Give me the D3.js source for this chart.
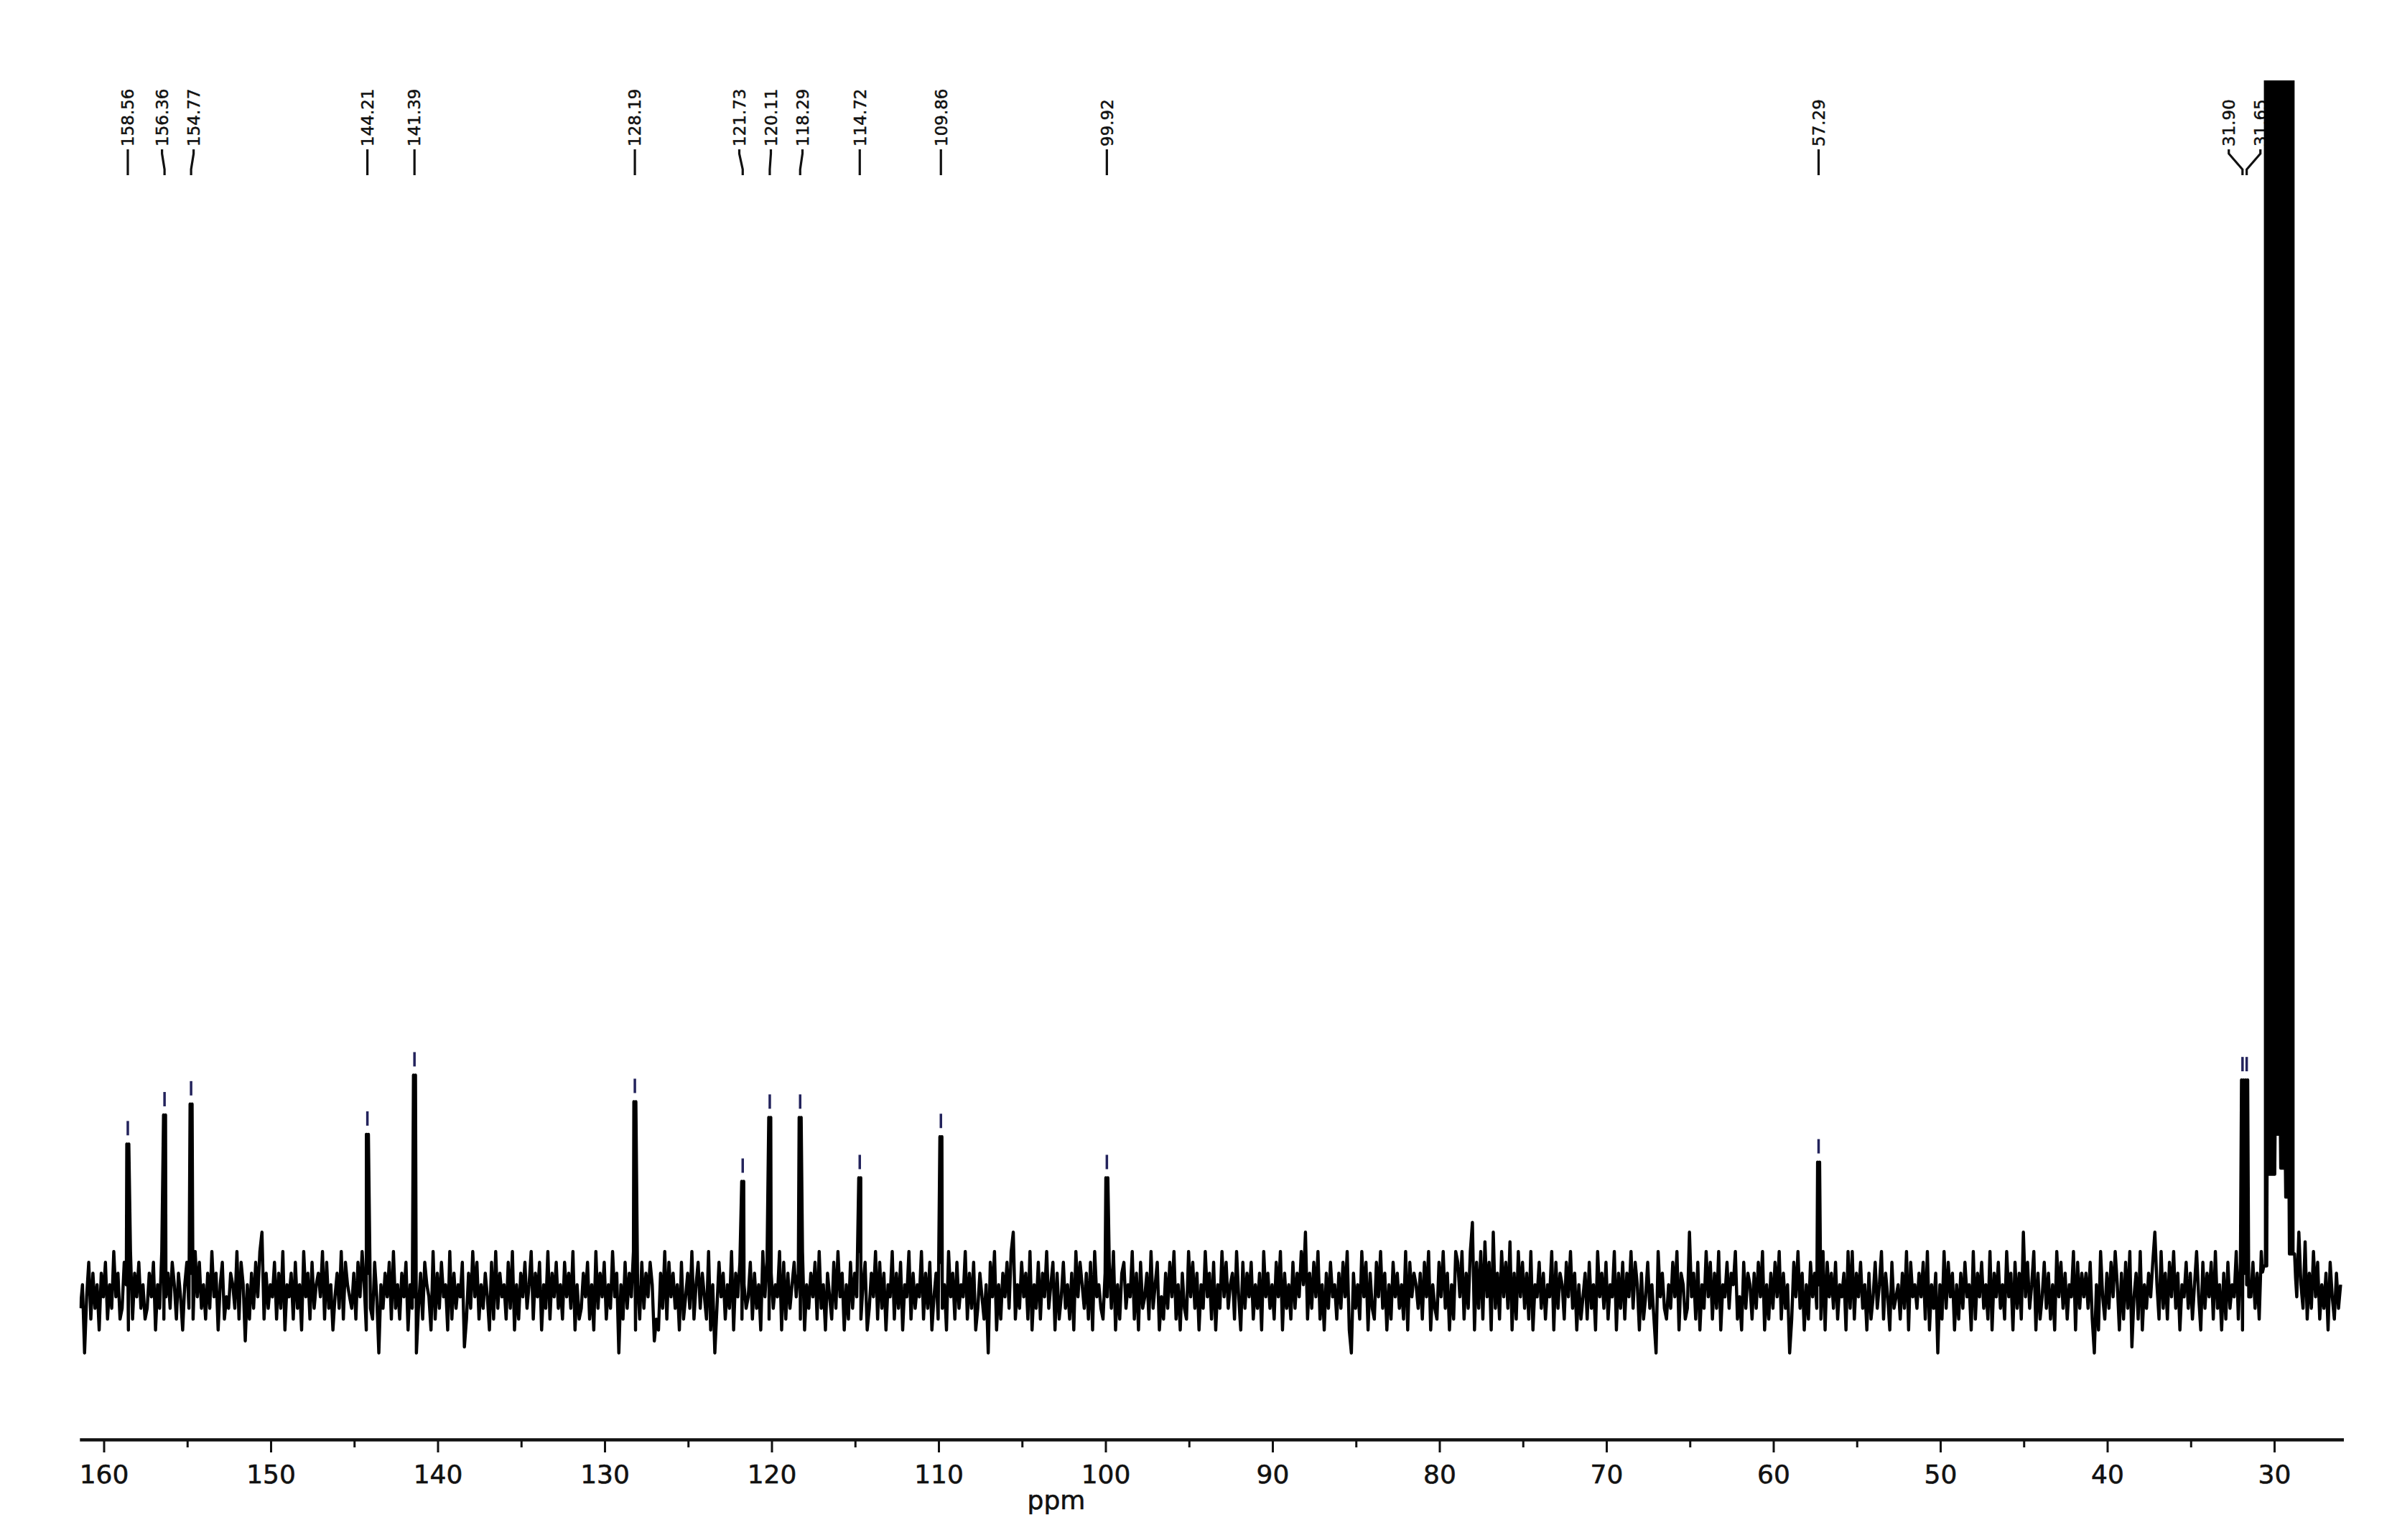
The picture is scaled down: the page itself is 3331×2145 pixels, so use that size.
<!DOCTYPE html>
<html><head><meta charset="utf-8">
<script src="https://cdn.jsdelivr.net/npm/d3@7"></script>
<style>html,body{margin:0;padding:0;background:#fff;} svg{display:block;}</style>
</head><body>
<script>
// ---------------- data ----------------
const peakPpm    = [158.56, 156.36, 154.77, 144.21, 141.39, 128.19, 121.73, 120.11, 118.29, 114.72, 109.86, 99.92, 57.29, 31.90, 31.65];
const peakHeight = [12.1, 14.5, 15.4, 12.9, 17.8, 15.6, 9.0, 14.3, 14.3, 9.3, 12.7, 9.3, 10.6, 17.4, 17.4];
const peakLabels = ["158.56","156.36","154.77","144.21","141.39","128.19","121.73","120.11","118.29","114.72","109.86","99.92","57.29","31.90","31.65"];

const majorTicks = [160,150,140,130,120,110,100,90,80,70,60,50,40,30];
const minorTicks = [155,145,135,125,115,105,95,85,75,65,55,45,35];

// solvent multiplet (clipped at top): lower edge of the black block
const solventPpm = [30.70, 30.62, 30.45, 30.43, 29.97, 29.95, 29.63, 29.61, 29.33, 29.31, 29.11, 29.09, 28.78, 28.72];
const solventLow = [1.5, 2.0, 2.0, 9.6, 9.6, 12.9, 12.9, 10.1, 10.1, 7.7, 7.7, 3.0, 3.0, 1.0];

// baseline noise, hand-read per 10 ppm segment
const noiseSegStart = [161.4,151.4,141.4,131.4,121.4,111.4,101.4,91.4,81.4,71.4,61.4,51.4,41.4,31.4];
const noiseSegEnd   = [151.4,141.4,131.4,121.4,111.4,101.4,91.4,81.4,71.4,61.4,51.4,41.4,31.4,25.9];
const noiseSegments = [
 "35Z4726351"+"6472538462"+"3751826473"+"5236471538"+"2463752641"+"5736284735"+"2638461572"+"4365382750",
 "5263748A26"+"3547263815"+"4627351846"+"2735648273"+"5146382754"+"3627485163"+"274Z536472"+"8352647153",
 "4Z36275418"+"2637451826"+"3547Y26384"+"7253641728"+"3645273815"+"2647358264"+"7153826473"+"5274638152",
 "3647251836"+"47253846Z5"+"2736481527"+"3647502163"+"8274635172"+"4638257364"+"2815Z37462"+"5381647253",
 "4726351847"+"2635481726"+"3574628153"+"6472835164"+"2738461527"+"3648257136"+"4827361548"+"2637154826",
 "3548263714"+"6273518462"+"7354826371"+"36425Z7481"+"5264738A25"+"3746281537"+"2648357162"+"4735261847",
 "5362718453"+"2647381526"+"7354826173"+"4628357142"+"6374825163"+"2847361538"+"4627153847"+"3562841736",
 "4725361846"+"3527481635"+"2736485A26"+"3748251637"+"452637481Z"+"6352847163"+"2748361527"+"4635281746",
 "5362748153"+"2748361528"+"7482638B17"+"3829471A36"+"2847391628"+"4736281547"+"3625481736"+"5274836152",
 "4627351846"+"3725481637"+"2648375162"+"47352Z8463"+"2537481652"+"3A46271538"+"4726381547"+"3658241736",
 "5263748152"+"637482635Z"+"2748361527"+"4635281746"+"3725461838"+"2647351624"+"7358264173"+"4526381745",
 "3647281536"+"Z528374615"+"2637451826"+"4735281647"+"3528461736"+"2A47358162"+"4736251847"+"3625481736",
 "46372Z5184"+"2637485162"+"738Y462815"+"3647A52836"+"2748361547"+"3625841736"+"4728351627"+"3548271654",
 "4736281547"+"3625481736"+"274A539263"+"8472536174"+"2635"
];
const noiseCodes = {"0":-4.2,"1":-3.3,"2":-2.4,"3":-1.5,"4":-0.55,"5":0.45,"6":1.4,"7":2.3,"8":3.2,"9":4.0,"A":4.8,"B":5.6,"Y":-4.7,"Z":-5.2};

// ---------------- layout ----------------
const W = 3331, H = 2145;
const baseY = 1797, topY = 112, axisY = 2005;
const leftPpm = 161.45, rightPpm = 25.85;

const svg = d3.select("body").append("svg").attr("width", W).attr("height", H)
  .style("font-family", "'DejaVu Sans', Verdana, sans-serif");
svg.append("rect").attr("width", W).attr("height", H).attr("fill", "#fff");

const x = d3.scaleLinear().domain([160, 30]).range([144.5, 3167]);
const y = d3.scaleLinear().domain([0, 100]).range([baseY, baseY - 1683]);

svg.append("clipPath").attr("id", "plotclip").append("rect")
  .attr("x", x(leftPpm)).attr("y", topY)
  .attr("width", x(rightPpm) - x(leftPpm)).attr("height", axisY - topY - 4);

// ---------------- peak labels ----------------
const px = peakPpm.map(p => x(p));
const lx = px.slice();
const minGap = 44;
for (let it = 0; it < 500; it++) {
  let moved = false;
  for (let i = 0; i < lx.length - 1; i++) {
    const g = lx[i + 1] - lx[i];
    if (g < minGap - 0.01) { const d = (minGap - g) / 2; lx[i] -= d; lx[i + 1] += d; moved = true; }
  }
  if (!moved) break;
}
const labG = svg.append("g");
peakPpm.forEach((p, i) => {
  labG.append("text")
    .attr("transform", `translate(${lx[i]},204) rotate(-90)`)
    .attr("dy", "0.36em")
    .attr("text-anchor", "start")
    .attr("font-size", 23)
    .attr("fill", "#111")
    .attr("stroke", "#111").attr("stroke-width", 0.5)
    .text(peakLabels[i]);
  const d = Math.abs(lx[i] - px[i]) > 1
    ? `M${lx[i]},208 L${lx[i]},214 L${px[i]},236 L${px[i]},244`
    : `M${px[i]},208 L${px[i]},244`;
  labG.append("path").attr("d", d).attr("fill", "none").attr("stroke", "#111").attr("stroke-width", 3.2);
});

// ---------------- spectrum ----------------
const pts = [];
noiseSegments.forEach((s, k) => {
  const step = (noiseSegStart[k] - noiseSegEnd[k]) / s.length;
  for (let j = 0; j < s.length; j++) {
    const ppm = noiseSegStart[k] - j * step;
    if (ppm <= solventPpm[0] && ppm >= solventPpm[solventPpm.length - 1]) continue;
    pts.push([ppm, noiseCodes[s[j]]]);
  }
});
peakPpm.forEach((p, i) => { pts.push([p + 0.06, peakHeight[i]]); pts.push([p - 0.06, peakHeight[i]]); });
solventPpm.forEach((p, i) => pts.push([p, solventLow[i]]));
pts.sort((a, b) => b[0] - a[0]);

const specG = svg.append("g").attr("clip-path", "url(#plotclip)");
const solv = solventPpm.map((p, i) => [p, solventLow[i]]);
specG.append("path")
  .attr("d", d3.area().x(d => x(d[0])).y0(d => y(d[1])).y1(y(150))(solv.slice(1, -1)))
  .attr("fill", "#000");
specG.append("path")
  .attr("d", d3.line().x(d => x(d[0])).y(d => y(d[1]))(pts))
  .attr("fill", "none").attr("stroke", "#000").attr("stroke-width", 4.4).attr("stroke-linejoin", "round");

// small peak markers above tops
peakPpm.forEach((p, i) => {
  svg.append("line")
    .attr("x1", x(p)).attr("x2", x(p))
    .attr("y1", y(peakHeight[i]) - 12).attr("y2", y(peakHeight[i]) - 32)
    .attr("stroke", "#23235c").attr("stroke-width", 3.5);
});

// ---------------- axis ----------------
const xa = d3.scaleLinear().domain([leftPpm, rightPpm]).range([x(leftPpm), x(rightPpm)]);
const axG = svg.append("g").attr("transform", `translate(0,${axisY})`)
  .call(d3.axisBottom(xa).tickValues(majorTicks).tickSize(18).tickPadding(17).tickSizeOuter(0).tickFormat(d3.format("d")));
axG.select(".domain").attr("stroke", "#111").attr("stroke-width", 4.5);
axG.selectAll(".tick line").attr("stroke", "#111").attr("stroke-width", 3);
axG.selectAll(".tick text").attr("font-size", 36).attr("fill", "#111")
  .attr("stroke", "#111").attr("stroke-width", 0.6)
  .attr("font-family", "'DejaVu Sans', Verdana, sans-serif");
const mnG = svg.append("g").attr("transform", `translate(0,${axisY})`)
  .call(d3.axisBottom(xa).tickValues(minorTicks).tickSize(11).tickSizeOuter(0).tickFormat(""));
mnG.select(".domain").remove();
mnG.selectAll(".tick line").attr("stroke", "#111").attr("stroke-width", 3);

svg.append("text").attr("x", 1471).attr("y", 2102).attr("text-anchor", "middle")
  .attr("font-size", 36).attr("fill", "#111").attr("stroke", "#111").attr("stroke-width", 0.6).text("ppm");
</script>
</body></html>
